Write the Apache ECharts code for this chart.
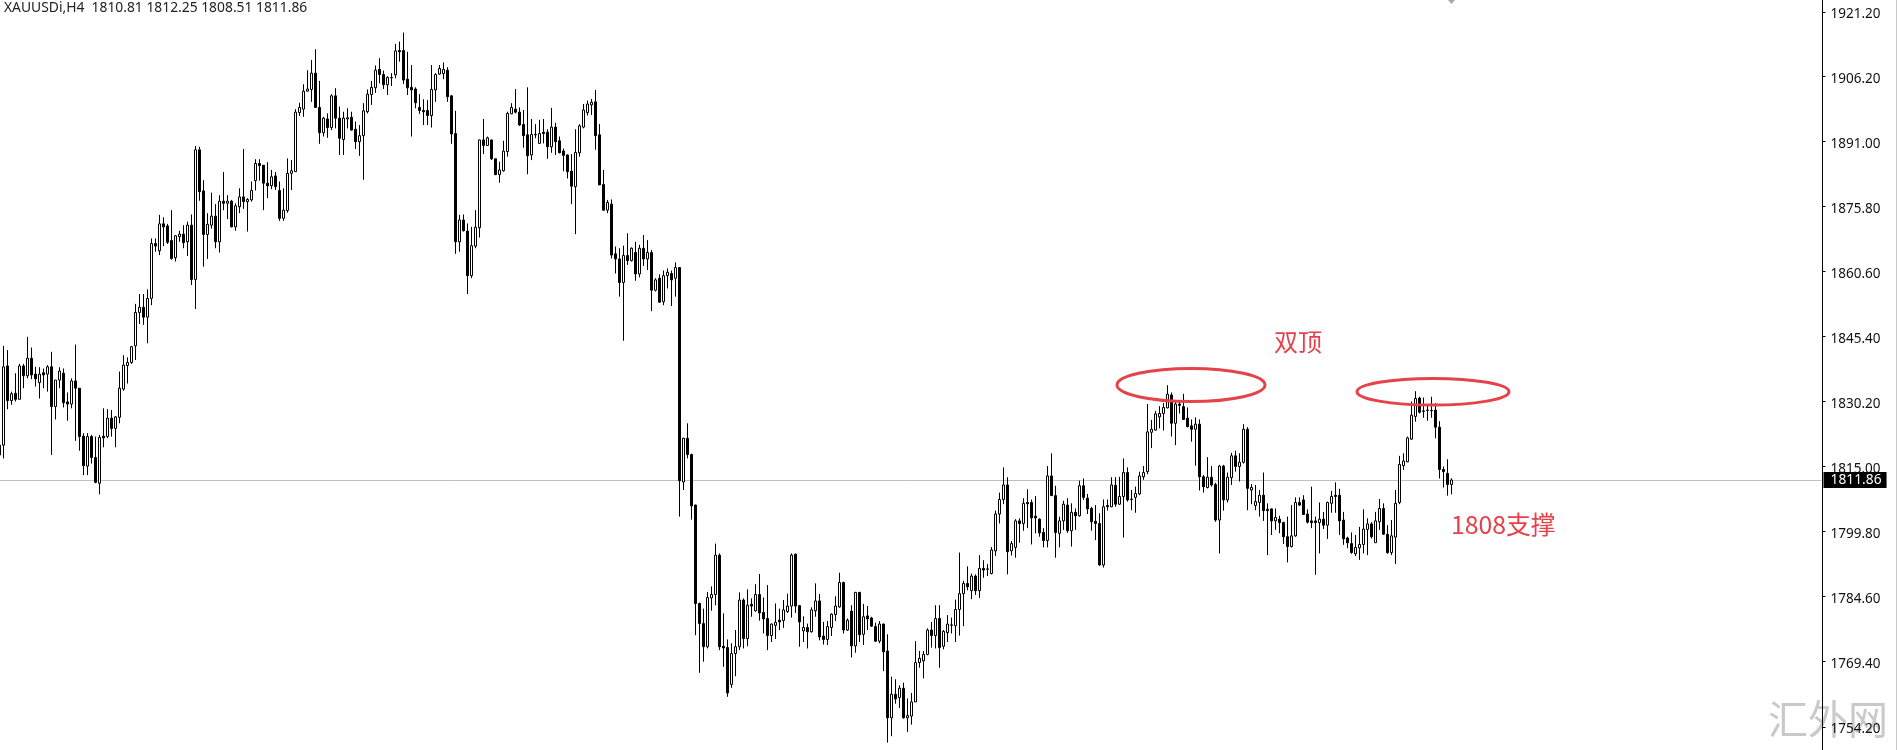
<!DOCTYPE html>
<html>
<head>
<meta charset="utf-8">
<style>html,body{margin:0;padding:0;background:#fff}#c{width:1897px;height:750px}</style>
<script src="https://cdn.jsdelivr.net/npm/echarts@6/dist/echarts.min.js"></script>
</head>
<body>
<div id="c"></div>
<script>
const opens = [
1817.7,1820.0,1838.5,1830.4,1832.1,1830.7,1838.5,1836.2,1840.3,1836.6,
1834.6,1836.9,1836.6,1838.3,1829,1835.2,1836.8,1830.1,1829.6,1835,
1833.3,1822.1,1815.1,1822,1817.1,1811.1,1822.1,1822,1826.3,1823.9,
1826.5,1833.1,1838.6,1839.3,1843.2,1851,1852.2,1849.9,1854.3,1867.1,
1865.4,1871.7,1871.2,1867.8,1863.8,1868.7,1869.3,1867.5,1871.4,1858.7,
1889,1879.4,1869.2,1871.4,1873.5,1867.5,1877,1876.5,1877,1871,
1875.7,1878,1876.9,1877.3,1881.8,1885.8,1885.4,1881.2,1880.6,1882.9,
1879.5,1873,1874.8,1883.5,1883.9,1897.7,1898.5,1902.7,1903.1,1906.9,
1898.9,1893,1896.2,1894.2,1901.6,1896.4,1891.4,1896.2,1896.6,1893.8,
1890.9,1892.3,1897.9,1901.9,1903.5,1907.8,1906.6,1904.2,1905.8,1906.5,
1912.2,1912.2,1905.5,1903.6,1903.2,1898.9,1898.2,1898.2,1897,1903,
1906.7,1906.8,1907.6,1901.6,1892.8,1867.5,1872.6,1870,1859.6,1866.5,
1870.8,1891.3,1890,1891.3,1886.9,1883.2,1884.1,1888.6,1897.4,1898.5,
1897.8,1894.9,1892.5,1887.8,1892.5,1890.5,1893.1,1893.1,1889.7,1894.3,
1891.1,1888.7,1887.8,1884,1880.4,1888.3,1894.3,1897.7,1899.5,1900.2,
1892.5,1880.9,1874.9,1876.3,1864.7,1863.5,1858,1864.3,1863.1,1865,
1860,1866,1863.5,1865,1856.2,1859,1853.5,1859.6,1860.1,1859,
1861.5,1811.4,1821.6,1817.8,1806,1783,1778.3,1772.9,1784.3,1785.1,
1794.3,1773,1772.7,1764.1,1771.3,1772.9,1783.8,1774.8,1782.8,1781.3,
1785.1,1780.9,1779.5,1775.5,1777.9,1779.1,1779,1781.1,1782.4,1794.5,
1782.5,1776.6,1777.4,1776.4,1781.3,1783.6,1775.4,1774.6,1777.4,1780.4,
1782.2,1787.9,1776.8,1781.2,1773.1,1785.6,1775.8,1780.1,1779.6,1777.6,
1774.2,1778.2,1771.9,1756.3,1761.8,1761,1763.2,1756.3,1756.7,1760,
1769.2,1769.6,1771.1,1776.8,1775.5,1779.5,1773,1776.2,1777.9,1777.8,
1781.6,1785.3,1787.7,1786,1789.4,1786,1791.2,1791,1790,1795.3,
1803.9,1807.3,1810.7,1795.3,1796.1,1802.3,1801.7,1806.6,1806.6,1803.4,
1802.7,1799.6,1797.7,1812.8,1808.2,1799.4,1802.3,1806,1800,1804.3,
1803.5,1810.5,1807.6,1805.2,1802.2,1801.7,1792,1805.9,1805.6,1810.6,
1806.2,1808,1813.6,1807.3,1807.8,1808.6,1812.6,1813.8,1823,1823.5,
1826.6,1827.4,1828.7,1831.7,1825.1,1829.6,1829,1826.3,1824.5,1823.7,
1824.9,1812.6,1810.1,1812.5,1810.8,1802.5,1815.1,1807.2,1812.4,1817.5,
1815,1816,1823.7,1809.5,1805.9,1806.6,1808.3,1805,1805.1,1802.3,
1802.7,1801.9,1798.6,1796.3,1798.8,1806.6,1807.2,1803.9,1802.3,1802.3,
1801.9,1802.7,1801.3,1806.4,1808.3,1808.3,1802.5,1798.3,1797,1794.6,
1796,1796.8,1800.3,1801.6,1797.2,1802.1,1805.2,1799.2,1794.9,1798.5,
1806.6,1815.2,1816.1,1821.4,1826.7,1831,1828,1828.1,1828.1,1828.2,
1824.2,1814.3,1813.4,1810.81];
const closes = [
1820,1838.3,1830.4,1832,1830.7,1838.5,1836.2,1840.3,1836.4,1835.5,
1836.6,1836.4,1838.3,1829,1835.2,1837.3,1829.9,1829.6,1835,1833.3,
1822,1815.2,1822,1817.1,1811.3,1821.8,1821.7,1826.3,1823.9,1826.6,
1833.3,1838.7,1839.3,1843,1851,1852.2,1849.9,1854.3,1867.1,1866.5,
1871.7,1871,1867.4,1863.6,1868.9,1869.3,1867.3,1871.4,1858.7,1889,
1879.2,1869.2,1871.6,1873.5,1867.5,1877,1876.5,1877,1871,1875.9,
1878,1876.9,1877.4,1879.5,1885.8,1885.3,1881.2,1880.6,1882.7,1880.4,
1873,1874.9,1883.5,1884.1,1897.8,1898.9,1902.7,1903.2,1906.9,1898.9,
1893,1896.4,1894.2,1901.6,1896.4,1891.7,1896.4,1896.5,1893.6,1890.9,
1892.3,1898.1,1902,1903.6,1907.6,1906.6,1904.2,1905.9,1905.9,1912.1,
1911.9,1905.3,1903.5,1903,1900,1898.2,1897.9,1897,1903.1,1906.6,
1908,1907.8,1901.4,1892.7,1867.5,1872.6,1870.1,1859.6,1866.6,1870.9,
1891.3,1890,1891.8,1886.9,1883.2,1884.3,1888.7,1897.5,1898.9,1897.8,
1894.8,1892.3,1887.6,1892.6,1892.6,1892.8,1892.8,1889.7,1894.3,1890.9,
1888.3,1887.7,1883.9,1880.5,1888.4,1894.6,1898.3,1899.7,1900.1,1892.3,
1880.8,1874.9,1876.7,1864.4,1863.5,1858,1864.3,1863.1,1866,1860,
1866,1863.5,1865,1856.2,1858.6,1853.4,1859.6,1860.4,1858.6,1861.5,
1811.7,1821.6,1817.8,1805.8,1783,1778.3,1772.9,1784.4,1785.1,1794.3,
1772.9,1772.6,1762.1,1771.3,1772.9,1783.8,1774.8,1782.6,1782.4,1785.1,
1780.8,1779.4,1775.5,1778.2,1778.6,1778.7,1781.5,1782.4,1794.3,1782.4,
1778.7,1777.4,1776.4,1781.5,1783.6,1775.2,1774.6,1777.6,1780.5,1782.4,
1787.9,1776.8,1779.1,1773.1,1785.6,1775.7,1779.9,1779.4,1777.7,1774.2,
1778.2,1771.7,1756.3,1761.8,1760.7,1763.2,1756.3,1756.8,1760,1769.2,
1770.2,1771.1,1776.8,1775.5,1779.5,1772.7,1776.5,1778.2,1778,1781.6,
1785.3,1787.7,1786.9,1789.4,1786,1791.2,1790.8,1791.1,1795.5,1803.9,
1807.3,1810.7,1795.1,1797,1802.3,1801.7,1806.4,1806.3,1803,1803,
1799.5,1797.7,1812.8,1808.2,1799.6,1802.3,1806.2,1800,1804.3,1803.5,
1810.5,1807.8,1805.1,1802.1,1801.7,1792,1805.6,1805.6,1810.7,1806.2,
1808,1813.6,1807.2,1807.4,1808.7,1812.8,1813.6,1823.1,1823.7,1827.3,
1827.4,1828.8,1831.9,1825.1,1829.6,1829.3,1826,1824.3,1823.7,1824.9,
1812.6,1810.3,1812.5,1810.7,1802.5,1815.1,1807.2,1812.5,1817.5,1815,
1816,1823.7,1809.9,1810.1,1806.8,1808.3,1804.7,1804.7,1802.3,1803.1,
1801.9,1798.6,1796.3,1798.8,1806.6,1806,1803.8,1802,1801.9,1801.9,
1802.7,1801.3,1806.6,1808,1808,1802.3,1798.1,1797.2,1794.9,1796.1,
1796.8,1800.4,1801.6,1798.6,1802.3,1805.2,1799.2,1794.9,1798.8,1806.4,
1815.5,1816.3,1821.7,1827,1830.9,1827.7,1827.9,1828.2,1828,1824.2,
1814.3,1813.8,1810.8,1811.86];
const lows = [
1815.5,1816.9,1828.4,1829.4,1830.2,1830.7,1833.3,1835.6,1835.4,1833.7,
1830.9,1833.3,1832.5,1817.7,1826,1833.3,1828.8,1825.7,1828.6,1821,
1818.7,1813,1813,1815.7,1811.1,1808.5,1819.5,1821.6,1822,1819.5,
1825.1,1832.7,1834.4,1839,1839.9,1848.3,1848.1,1843.8,1852.7,1865.2,
1864.4,1866.5,1867,1863.3,1862.9,1867.5,1866,1864.2,1857.4,1851.8,
1877.1,1861.7,1863.5,1870.6,1866,1865,1874.9,1872.8,1870.9,1870.1,
1874.2,1875.2,1869.9,1876.9,1879.5,1881.8,1874.9,1877.7,1879.8,1879.6,
1872.4,1872.4,1874.3,1879.6,1883.9,1896.9,1896.7,1902.6,1900.2,1898.9,
1890.4,1892.1,1891.8,1893.6,1894,1887.8,1887.8,1894,1893.5,1889.2,
1887.6,1882,1897.5,1899.5,1902.3,1904.5,1903.2,1901.8,1903.9,1905.7,
1909.6,1904.4,1901.8,1892.1,1898.7,1897.4,1894.8,1894.8,1894.2,1900.2,
1906.5,1905.5,1900.2,1890.4,1864.7,1865.2,1869.9,1855.3,1859,1866,
1868.5,1888,1889.9,1886.6,1883.1,1881.3,1883.9,1887.4,1897.4,1897.5,
1894.6,1889.5,1883.3,1886.6,1891.7,1890.4,1890.5,1886.9,1888.3,1887.8,
1888.2,1884,1882.3,1876.3,1869.3,1887.4,1894,1897,1897.1,1889,
1880.8,1874.8,1874.2,1863.6,1860.1,1854.7,1844.4,1862.1,1862.9,1858.4,
1859.2,1861.9,1860.9,1851.3,1855.9,1853.3,1852.7,1856.6,1852.5,1854.7,
1803.3,1809.5,1816.9,1802.6,1775.6,1766.8,1769.4,1772.5,1781.3,1782.6,
1772.1,1768.2,1761.2,1763.3,1766,1772.1,1772.5,1773,1779.9,1781.1,
1779,1776,1772.1,1774,1774.7,1776.8,1777.3,1780.8,1779.7,1780.8,
1772.9,1774,1772.5,1776.2,1779.9,1774.4,1773.4,1773.3,1775.4,1778.9,
1782,1776,1776.6,1770.4,1771.5,1774,1773.3,1776.8,1777.6,1774,
1773.7,1767.2,1750.5,1752,1759.6,1758.6,1756.1,1753,1754.7,1760,
1768,1765.5,1770.9,1772.7,1772.5,1768,1772.3,1774,1776,1774,
1775.5,1777.7,1786.1,1784,1785,1784.3,1789,1789.4,1789.8,1794.1,
1801.7,1806.2,1789.8,1794.2,1793.7,1797.2,1800,1800.6,1796.8,1799.4,
1798.6,1796.1,1796.1,1808.2,1793.7,1796.1,1800.2,1799.5,1796.3,1800.2,
1803.3,1807.2,1803.9,1800,1797.8,1791.8,1791.4,1804.7,1805.5,1805.6,
1806,1798.4,1806.8,1804.8,1804.2,1808.3,1811.9,1813.2,1819.3,1823.4,
1823.9,1823.4,1828.6,1822,1820,1827.4,1825.9,1824.2,1820.8,1815.2,
1809.4,1808.9,1809.9,1810.3,1802.1,1794.7,1804.7,1806.6,1810.7,1813.8,
1811.5,1815.7,1804.8,1806.2,1804.8,1803.3,1802.3,1794.3,1799,1800.2,
1799.4,1796.9,1792.6,1796.1,1798.6,1805.8,1803.7,1801.7,1800.6,1789.7,
1794.7,1800.4,1798.1,1804.2,1804.2,1799,1796.7,1795.9,1794.6,1794.1,
1793.2,1794.7,1794.3,1798.2,1797.2,1800.2,1799,1794.6,1794.3,1792.2,
1806.2,1814.2,1816,1821.2,1825.5,1827.4,1826.4,1825.7,1826.4,1821.6,
1812.2,1810.1,1808.2,1808.51];
const highs = [
1820.5,1843.2,1842.2,1832.5,1836.8,1839,1839,1845.3,1842.8,1838.3,
1838.2,1837.9,1838.7,1841.8,1835.2,1838.2,1837.9,1832.3,1835.6,1843.5,
1833.3,1822.8,1822.8,1822.4,1822,1822.4,1828.6,1828.4,1828.2,1826.8,
1837.2,1841,1840.5,1843.2,1853,1855.3,1855.3,1856.4,1868.3,1868.3,
1873.8,1873.2,1871.7,1874.9,1869.1,1870.1,1871.4,1872.2,1873.9,1889.9,
1889.7,1881.9,1874.2,1879,1876.3,1878.4,1883.8,1878.4,1877.3,1876.5,
1880,1889.2,1877.7,1881.6,1886.8,1886.8,1885.4,1886.1,1884.3,1883.8,
1881.6,1880,1887,1886.6,1898.5,1900,1904.3,1907.6,1910,1912.5,
1905.1,1896.7,1897.5,1902,1903.4,1899.1,1897.9,1898.7,1897.9,1895.6,
1894.8,1899.9,1903.1,1905.1,1908.7,1910.4,1907.5,1906.2,1906.9,1913.7,
1914.3,1916.4,1911.9,1908.8,1903.6,1902,1900.8,1900.6,1908.8,1906.9,
1908.8,1909.4,1908.3,1901.8,1898.1,1873.8,1873.9,1871.8,1871,1874.9,
1891.4,1896.2,1892.1,1891.4,1886.9,1886.2,1891.1,1897.9,1899.9,1903.2,
1898.9,1898.3,1903.6,1896.2,1895,1896,1896.2,1893.8,1898.8,1895.3,
1892.1,1889.3,1887.9,1888,1893.8,1895,1899.7,1900.5,1900.9,1903,
1895,1884.3,1877.3,1877.4,1866.4,1866,1866.6,1869.5,1866.2,1867.5,
1866.8,1869.1,1867.9,1865.6,1859,1859.9,1860.8,1861.3,1860.8,1862.7,
1861.6,1821.7,1825.1,1818,1806.1,1783.2,1781.8,1785.7,1787,1797,
1794.7,1780.7,1774.6,1773.7,1776.8,1785.6,1784.2,1786.3,1784.2,1787.5,
1789.9,1784.4,1787.3,1778.3,1783,1781.8,1783.8,1785.3,1794.7,1794.7,
1782.6,1780,1778.3,1782.1,1787.7,1785.2,1778.7,1778.9,1780.7,1784.7,
1790.2,1788.1,1779.5,1782.6,1785.7,1785.7,1782.9,1782.4,1779.9,1778.5,
1778.9,1778.3,1775.8,1765.9,1765.3,1763.9,1764.5,1760.8,1762.1,1774.2,
1771.9,1771.9,1777.2,1778.7,1782.6,1782.6,1776.8,1780.3,1779.7,1783.9,
1794.9,1788.3,1791.7,1790,1789.8,1794.3,1793.1,1792.2,1796.2,1804.7,
1808.9,1814.8,1812.5,1797.6,1802.7,1802.9,1807.6,1809.7,1807.3,1808.1,
1802.9,1800.6,1815.1,1818.1,1810.5,1803.3,1807,1807.6,1806.4,1805.2,
1811.7,1812.2,1808.6,1805.6,1806,1804.1,1807.3,1807.3,1812.5,1812.5,
1812.6,1816.9,1814.8,1809.5,1810.3,1813.8,1815.1,1829.6,1825.9,1828,
1829.1,1829.8,1834,1832.3,1830.2,1830.4,1832,1828.8,1826,1826.5,
1826,1813,1817.2,1815.1,1811.2,1815.4,1815.4,1813.6,1818.2,1818.7,
1818.1,1824.9,1824.2,1810.9,1810.7,1809.5,1813.6,1806.4,1805.2,1805.2,
1803.5,1802.1,1803.3,1806,1807.8,1807.8,1808.3,1805,1810.3,1803.3,
1806.6,1804.4,1806.8,1809.3,1811.3,1809.8,1804.4,1798.6,1799.6,1799,
1800.9,1805,1802.9,1802,1804.4,1807.4,1806.4,1801.3,1802.5,1809.5,
1817.5,1818.1,1822,1830.2,1832.6,1831.3,1831.1,1829.6,1831.3,1829.8,
1825.6,1815,1816.7,1812.25];
const tickLabels = [1921.2,1906.2,1891.0,1875.8,1860.6,1845.4,1830.2,1815.0,1799.8,1784.6,1769.4,1754.2];
const headerText = 'XAUUSDi,H4  1810.81 1812.25 1808.51 1811.86';
const lastPrice = 1811.86;
const axisMin = 1748.77, axisMax = 1924;

const slotCount = 456;
const categories = Array.from({length: slotCount}, (_, i) => String(i));
const candles = opens.map((o, i) => [o, closes[i], lows[i], highs[i]]);

const red = '#e8404a';
const chart = echarts.init(document.getElementById('c'), null, {renderer: 'canvas'});
chart.setOption({
  animation: false,
  backgroundColor: '#ffffff',
  title: {
    text: headerText, left: 4, top: 1, padding: 0,
    textStyle: {fontFamily: 'Noto Sans', fontSize: 13.85, fontWeight: 'normal', color: '#222', lineHeight: 15}
  },
  grid: {left: -2.5, top: 0, width: 1824, height: 750, containLabel: false, outerBoundsMode: 'none'},
  xAxis: {type: 'category', data: categories, show: false, boundaryGap: true},
  yAxis: {
    type: 'value', position: 'right', offset: 1, min: axisMin, max: axisMax, scale: true,
    splitLine: {show: false},
    axisLine: {show: true, onZero: false, lineStyle: {color: '#000', width: 1}},
    axisTick: {show: true, length: 3, customValues: tickLabels, lineStyle: {color: '#000'}},
    axisLabel: {
      show: true, margin: 8, customValues: tickLabels, color: '#111',
      fontFamily: 'Noto Sans', fontSize: 13.5, verticalAlign: 'top', lineHeight: 5,
      formatter: v => v.toFixed(2)
    }
  },
  series: [{
    type: 'candlestick', data: candles, barWidth: 2, z: 3, silent: true,
    itemStyle: {color: '#ffffff', color0: '#000000', borderColor: '#000000', borderColor0: '#000000', borderWidth: 1},
    markLine: {
      silent: true, symbol: 'none', z: 1, animation: false,
      lineStyle: {color: '#c0c0c0', width: 1, type: 'solid'},
      data: [{yAxis: lastPrice}],
      label: {
        show: true, position: 'end', distance: 2, color: '#fff', backgroundColor: '#000',
        fontFamily: 'Noto Sans', fontSize: 13.8, lineHeight: 16, padding: [0, 5, 0, 7],
        formatter: () => lastPrice.toFixed(2)
      }
    }
  }],
  graphic: [
    {type: 'text', z: 0, style: {x: 1768, y: 699, text: '汇外网', fill: '#c9c9c9', font: '40px "Noto Sans CJK SC"'}},
    {type: 'line', z: 5, shape: {x1: 1896.5, y1: 0, x2: 1896.5, y2: 750}, style: {stroke: '#c8c8c8', lineWidth: 1}},
    {type: 'polygon', z: 5, shape: {points: [[1448, 0], [1455, 0], [1451.5, 4]]}, style: {fill: '#a8a8a8'}},
    {type: 'ellipse', z: 50, shape: {cx: 1191, cy: 385, rx: 74, ry: 16.5}, style: {fill: 'none', stroke: '#e4434a', lineWidth: 3}},
    {type: 'ellipse', z: 50, shape: {cx: 1433, cy: 391.7, rx: 76, ry: 13.3}, style: {fill: 'none', stroke: '#e4434a', lineWidth: 3}},
    {type: 'text', z: 50, style: {x: 1274, y: 330, text: '双顶', fill: red, font: '24px "Noto Sans CJK SC"'}},
    {type: 'text', z: 50, style: {x: 1451, y: 512, text: '1808支撑', fill: red, font: '24.8px "Noto Sans CJK SC"'}}
  ]
});
</script>
</body>
</html>
